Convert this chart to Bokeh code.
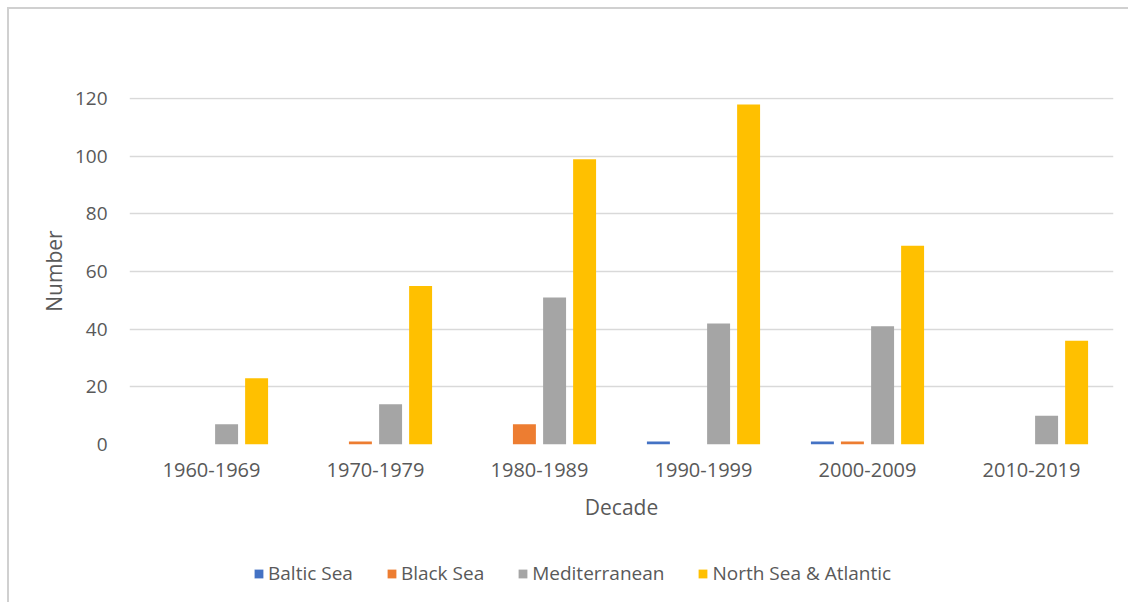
from bokeh.plotting import figure
from bokeh.models import ColumnDataSource, FactorRange, Range1d, Legend, LegendItem, FixedTicker, Spacer
from bokeh.layouts import column, row
from bokeh.transform import dodge
from bokeh.embed import file_html
from bokeh.resources import INLINE

decades = ["1960-1969", "1970-1979", "1980-1989", "1990-1999", "2000-2009", "2010-2019"]
baltic = [0, 0, 0, 1, 1, 0]
black = [0, 1, 7, 0, 1, 0]
mediterranean = [7, 14, 51, 42, 41, 10]
north_atlantic = [23, 55, 99, 118, 69, 36]
series_names = ["Baltic Sea", "Black Sea", "Mediterranean", "North Sea & Atlantic"]
colors = ["#4472C4", "#ED7D31", "#A5A5A5", "#FFC000"]
y_ticks = [0, 20, 40, 60, 80, 100, 120]

src = ColumnDataSource(dict(decade=decades, baltic=baltic, black=black,
                            med=mediterranean, north=north_atlantic))

FONT = "Open Sans"
TXT = "#595959"
BORDER = "2px solid #d0d0d0"

p = figure(x_range=FactorRange(*decades, range_padding=0), y_range=Range1d(0, 120.4),
           width=1121, height=521, output_backend="svg", toolbar_location=None,
           min_border_left=120, min_border_right=17, min_border_top=88, min_border_bottom=86)
p.styles = {"border-left": BORDER, "border-top": BORDER}

cols = ["baltic", "black", "med", "north"]
offsets = [-0.275, -0.092, 0.092, 0.275]
for c, off, col in zip(cols, offsets, colors):
    p.vbar(x=dodge("decade", off, range=p.x_range), top=c, width=0.14, source=src,
           fill_color=col, line_color=None)

p.outline_line_color = None
p.xgrid.grid_line_color = None
p.ygrid.grid_line_color = "#d9d9d9"
p.ygrid.grid_line_width = 1.5
p.yaxis.ticker = FixedTicker(ticks=y_ticks)

for ax in (p.xaxis[0], p.yaxis[0]):
    ax.axis_line_color = None
    ax.major_tick_line_color = None
    ax.minor_tick_line_color = None
    ax.major_label_text_font = FONT
    ax.major_label_text_font_size = "19px"
    ax.major_label_text_color = TXT
    ax.axis_label_text_font = FONT
    ax.axis_label_text_font_size = "21px"
    ax.axis_label_text_color = TXT
    ax.axis_label_text_font_style = "normal"

p.xaxis.major_label_text_font_size = "20px"
p.xaxis.axis_label = "Decade"
p.yaxis.axis_label = "Number"
p.xaxis.major_label_standoff = 12
p.xaxis.axis_label_standoff = 13
p.yaxis.major_label_standoff = 16
p.yaxis.axis_label_standoff = 4

# legend strip underneath the chart (its frame is aligned with the chart's frame)
lg = figure(x_range=Range1d(0, 1), y_range=Range1d(0, 1), width=1121, height=74,
            output_backend="svg", toolbar_location=None,
            x_axis_location=None, y_axis_location=None,
            min_border_left=0, min_border_right=0, min_border_top=0, min_border_bottom=0)
lg.styles = {"border-left": BORDER}
lg.outline_line_color = None
lg.xgrid.grid_line_color = None
lg.ygrid.grid_line_color = None

# legend proxies: one bar each, lying outside the strip's visible range
proxy = ColumnDataSource(dict(x=[-5], top=[-5]))
legend_renderers = [lg.vbar(x="x", top="top", width=0.1, source=proxy,
                            fill_color=col, line_color=None)
                    for col in colors]
legend = Legend(items=[LegendItem(label=n, renderers=[r]) for n, r in zip(series_names, legend_renderers)],
                orientation="horizontal", location=(124, 16))
legend.label_text_font = FONT
legend.label_text_font_size = "19px"
legend.label_text_color = TXT
legend.glyph_width = 11
legend.glyph_height = 11
legend.label_standoff = 4
legend.spacing = 33
legend.padding = 0
legend.margin = 0
legend.border_line_color = None
legend.background_fill_alpha = 0
legend.label_height = 20
lg.add_layout(legend, "center")

layout = row(Spacer(width=7), column(Spacer(height=7), p, lg, spacing=0), spacing=0)
open("out.html", "w").write(file_html(layout, INLINE))
